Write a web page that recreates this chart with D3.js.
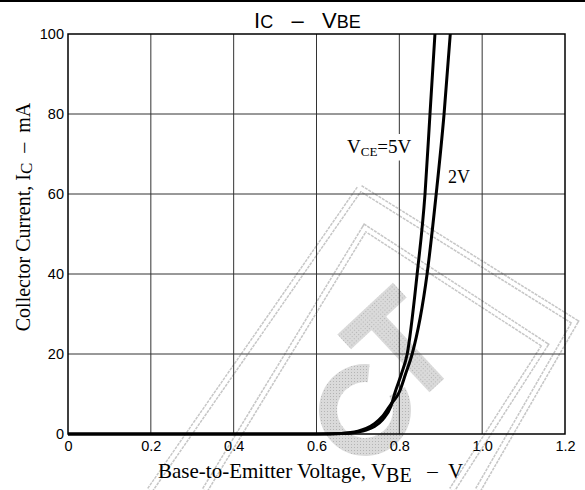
<!DOCTYPE html>
<html>
<head>
<meta charset="utf-8">
<script src="https://cdn.jsdelivr.net/npm/d3@7"></script>
<style>
  body { margin: 0; background: #fff; }
  svg { display: block; }
</style>
</head>
<body>
<div id="chart"></div>
<script>
// tick values
const xTicks = [0, 0.2, 0.4, 0.6, 0.8, 1.0, 1.2];
const xTickLabels = ["0", "0.2", "0.4", "0.6", "0.8", "1.0", "1.2"];
const yTicks = [0, 20, 40, 60, 80, 100];

// VCE = 5V curve (VBE in V, IC in mA)
const vbe5V = [0, 0.60, 0.66, 0.70, 0.72, 0.74, 0.76, 0.78, 0.79, 0.805, 0.819, 0.843, 0.862, 0.874, 0.886];
const ic5V  = [0, 0,    0.1,  0.5,  1.0,  1.9,  3.6,  7.0,  10.5, 15,    20,    40,    60,    80,    100];

// VCE = 2V curve
const vbe2V = [0, 0.60, 0.66, 0.70, 0.72, 0.74, 0.76, 0.78, 0.80, 0.815, 0.831, 0.867, 0.889, 0.908, 0.923];
const ic2V  = [0, 0,    0.15, 0.7,  1.4,  2.6,  4.5,  7.5,  10.5, 15,    20,    40,    60,    80,    100];

const width = 585, height = 490;
const mLeft = 68, mRight = 565, mTop = 34, mBottom = 434;

const svg = d3.select("#chart").append("svg")
  .attr("width", width)
  .attr("height", height);

const x = d3.scaleLinear().domain([0, 1.2]).range([mLeft, mRight]);
const y = d3.scaleLinear().domain([0, 100]).range([mBottom, mTop]);

// faint "CT" watermark behind the plot (decoration only)
const defs = svg.append("defs");
const pat = defs.append("pattern").attr("id", "stip")
  .attr("width", 3).attr("height", 3).attr("patternUnits", "userSpaceOnUse");
pat.append("rect").attr("width", 3).attr("height", 3).attr("fill", "#d4d4d4");
pat.append("rect").attr("x", 1).attr("y", 1).attr("width", 1).attr("height", 1).attr("fill", "#a8a8a8");

const wm = svg.append("g").attr("opacity", 0.85);
const bands = [
  [[150, 490], [360, 188], [575, 322], [478, 490]],
  [[205, 490], [365, 228], [545, 345], [452, 490]]
];
const bandLine = d3.line();
bands.forEach(b => {
  wm.append("path").attr("d", bandLine(b)).attr("fill", "none")
    .attr("stroke", "#bdbdbd").attr("stroke-width", 7).attr("stroke-dasharray", "3,1");
  wm.append("path").attr("d", bandLine(b)).attr("fill", "none")
    .attr("stroke", "#fff").attr("stroke-width", 4);
});
wm.append("path")
  .attr("transform", "translate(365,410)")
  .attr("d", d3.arc().innerRadius(28).outerRadius(46)
    .startAngle(Math.PI / 3).endAngle(2 * Math.PI + 0.1)())
  .attr("fill", "url(#stip)");
const tee = wm.append("g").attr("transform", "translate(372,316) rotate(-43)");
tee.append("rect").attr("x", -38).attr("y", -10).attr("width", 76).attr("height", 20)
  .attr("fill", "url(#stip)");
tee.append("rect").attr("x", -10).attr("y", 0).attr("width", 20).attr("height", 95)
  .attr("fill", "url(#stip)");

// top rule
svg.append("line")
  .attr("x1", 0).attr("x2", width)
  .attr("y1", 1).attr("y2", 1)
  .attr("stroke", "#000").attr("stroke-width", 2);

// grid
svg.append("g")
  .selectAll("line")
  .data(xTicks.slice(1, -1))
  .enter().append("line")
  .attr("x1", d => x(d)).attr("x2", d => x(d))
  .attr("y1", mTop).attr("y2", mBottom)
  .attr("stroke", "#333").attr("stroke-width", 1);

svg.append("g")
  .selectAll("line")
  .data(yTicks.slice(1, -1))
  .enter().append("line")
  .attr("x1", mLeft).attr("x2", mRight)
  .attr("y1", d => y(d)).attr("y2", d => y(d))
  .attr("stroke", "#333").attr("stroke-width", 1);

// axes (labels only, no tick marks)
const xAxis = svg.append("g")
  .attr("transform", `translate(0,${mBottom})`)
  .call(d3.axisBottom(x).tickValues(xTicks).tickSize(0).tickPadding(7)
    .tickFormat((d, i) => xTickLabels[i]));
const yAxis = svg.append("g")
  .attr("transform", `translate(${mLeft},0)`)
  .call(d3.axisLeft(y).tickValues(yTicks).tickSize(0).tickPadding(4));
[xAxis, yAxis].forEach(a => {
  a.select(".domain").remove();
  a.selectAll("text")
    .attr("font-family", "Liberation Sans, Arial, sans-serif")
    .attr("font-size", 14.5)
    .attr("fill", "#000");
});

// frame
svg.append("rect")
  .attr("x", mLeft).attr("y", mTop)
  .attr("width", mRight - mLeft).attr("height", mBottom - mTop)
  .attr("fill", "none").attr("stroke", "#000").attr("stroke-width", 1.5);

// curves
svg.append("clipPath").attr("id", "plotclip")
  .append("rect")
  .attr("x", mLeft).attr("y", mTop - 1)
  .attr("width", mRight - mLeft).attr("height", mBottom - mTop + 4);

const line = d3.line()
  .x(d => x(d[0]))
  .y(d => y(d[1]))
  .curve(d3.curveMonotoneX);

const series = [
  { v: vbe5V, i: ic5V },
  { v: vbe2V, i: ic2V }
];

svg.append("g")
  .attr("clip-path", "url(#plotclip)")
  .selectAll("path")
  .data(series)
  .enter().append("path")
  .attr("d", s => line(s.v.map((v, k) => [v, s.i[k]])))
  .attr("fill", "none")
  .attr("stroke", "#000")
  .attr("stroke-width", 3);

// curve labels
const serif = "Liberation Serif, Times New Roman, serif";
const labBg = svg.append("rect").attr("fill", "#fff");
const lab5 = svg.append("text")
  .attr("x", 347).attr("y", 153)
  .attr("font-family", serif).attr("font-size", 19).attr("fill", "#000");
lab5.append("tspan").text("V");
lab5.append("tspan").attr("font-size", 13).attr("dy", 2.5).text("CE");
lab5.append("tspan").attr("dy", -2.5).text("=5V");
const bb = lab5.node().getBBox();
labBg.attr("x", bb.x - 1).attr("y", bb.y - 2)
  .attr("width", bb.width + 2).attr("height", bb.height + 4);

svg.append("text")
  .attr("x", 448).attr("y", 183)
  .attr("font-family", serif).attr("font-size", 18).attr("fill", "#000")
  .text("2V");

// title
const title = svg.append("text")
  .attr("x", 254).attr("y", 28)
  .attr("font-family", "Liberation Sans, Arial, sans-serif")
  .attr("font-size", 22).attr("fill", "#000")
  .attr("xml:space", "preserve");
title.append("tspan").text("I");
title.append("tspan").attr("font-size", 18).text("C");
title.append("tspan").text("   \u2013   ");
title.append("tspan").text("V");
title.append("tspan").attr("font-size", 18).text("BE");

// x axis title
const xt = svg.append("text")
  .attr("x", 158).attr("y", 478)
  .attr("font-family", serif).attr("font-size", 21).attr("fill", "#000")
  .attr("xml:space", "preserve");
xt.append("tspan").text("Base-to-Emitter Voltage, V");
xt.append("tspan").attr("font-size", 20).attr("dy", 4).text("BE");
xt.append("tspan").attr("dy", -4).text("   \u2013  V");

// y axis title
const yt = svg.append("text")
  .attr("transform", "translate(30,217) rotate(-90)")
  .attr("text-anchor", "middle")
  .attr("font-family", serif).attr("font-size", 20).attr("fill", "#000")
  .attr("xml:space", "preserve");
yt.append("tspan").text("Collector Current, I");
yt.append("tspan").attr("font-size", 17).attr("dy", 2).text("C");
yt.append("tspan").attr("dy", -2).text("  \u2013  mA");
</script>
</body>
</html>
